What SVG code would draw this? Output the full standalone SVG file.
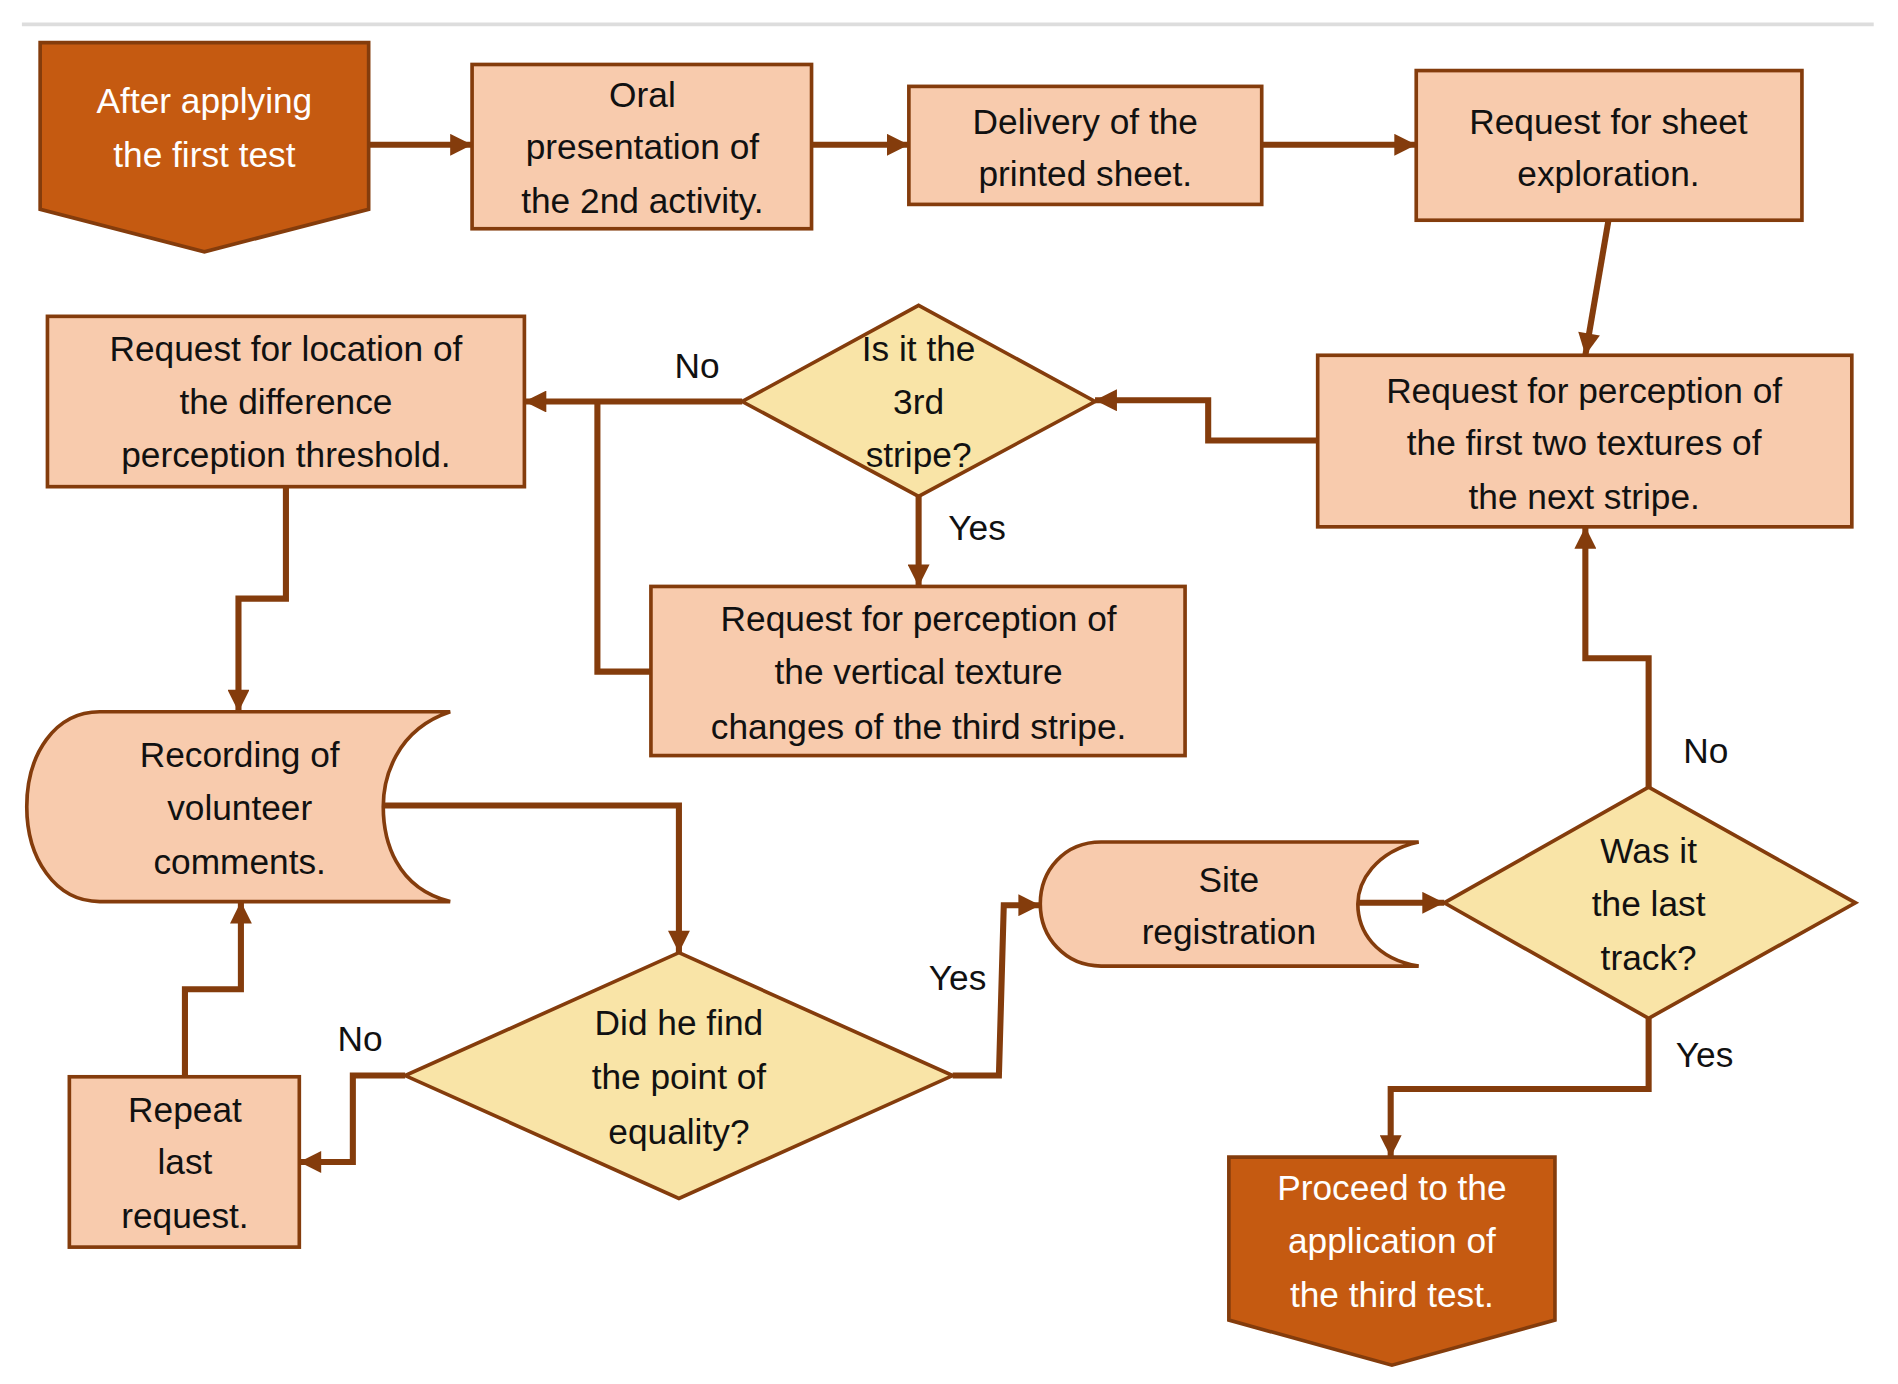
<svg xmlns="http://www.w3.org/2000/svg" width="1898" height="1384" viewBox="0 0 1898 1384">
<defs>
<marker id="ah" viewBox="0 0 10 10" refX="10" refY="5" markerWidth="22" markerHeight="18" markerUnits="userSpaceOnUse" orient="auto"><path d="M0,0 L10,5 L0,10 Z" fill="#843C0C"/></marker>
</defs>
<style>
.box{fill:#F8CBAD;stroke:#843C0C;stroke-width:3}
.dia{fill:#F9E4A7;stroke:#843C0C;stroke-width:3}
.term{fill:#C55A11;stroke:#843C0C;stroke-width:3}
text{font-family:"Liberation Sans","Open Sans",sans-serif;font-size:29px;fill:#111;text-anchor:middle}
.w{fill:#fff}
.c{fill:none;stroke:#843C0C;stroke-width:5;marker-end:url(#ah)}
</style>
<rect width="1898" height="1384" fill="#fff"/>
<g transform="scale(1.2167)">
<line x1="18" y1="20" x2="1540" y2="20" stroke="#ddd" stroke-width="3"/>
<g id="start"><path class="term" d="M33,35 H303 V172 L168,207 L33,172 Z"/><text class="w" x="168" y="93">After applying</text><text class="w" x="168" y="137">the first test</text></g>
<g id="oral"><rect class="box" x="388" y="53" width="279" height="135"/><text x="528" y="88">Oral</text><text x="528" y="131">presentation of</text><text x="528" y="175">the 2nd activity.</text></g>
<g id="delivery"><rect class="box" x="747" y="71" width="290" height="97"/><text x="892" y="110">Delivery of the</text><text x="892" y="153">printed sheet.</text></g>
<g id="explore"><rect class="box" x="1164" y="58" width="317" height="123"/><text x="1322" y="110">Request for sheet</text><text x="1322" y="153">exploration.</text></g>
<g id="perc2"><rect class="box" x="1083" y="292" width="439" height="141"/><text x="1302" y="331">Request for perception of</text><text x="1302" y="374">the first two textures of</text><text x="1302" y="418">the next stripe.</text></g>
<g id="third"><path class="dia" d="M755,251 L900,330 L755,408 L610,330 Z"/><text x="755" y="297">Is it the</text><text x="755" y="340">3rd</text><text x="755" y="384">stripe?</text></g>
<g id="location"><rect class="box" x="39" y="260" width="392" height="140"/><text x="235" y="297">Request for location of</text><text x="235" y="340">the difference</text><text x="235" y="384">perception threshold.</text></g>
<g id="vertical"><rect class="box" x="535" y="482" width="439" height="139"/><text x="755" y="519">Request for perception of</text><text x="755" y="562">the vertical texture</text><text x="755" y="607">changes of the third stripe.</text></g>
<g id="recording"><path class="box" d="M82,585 H370 C325,600 315,640 315,663 C315,690 325,730 370,741 H82 C45,741 22,705 22,663 C22,620 45,585 82,585 Z"/><text x="197" y="630">Recording of</text><text x="197" y="674">volunteer</text><text x="197" y="718">comments.</text></g>
<g id="found"><path class="dia" d="M558,783 L783,884 L558,985 L333,884 Z"/><text x="558" y="851">Did he find</text><text x="558" y="895">the point of</text><text x="558" y="940">equality?</text></g>
<g id="repeat"><rect class="box" x="57" y="885" width="189" height="140"/><text x="152" y="922">Repeat</text><text x="152" y="965">last</text><text x="152" y="1009">request.</text></g>
<g id="site"><path class="box" d="M905,692 H1166 C1130,700 1116,725 1116,743 C1116,765 1130,788 1166,794 H905 C875,794 855,770 855,743 C855,715 875,692 905,692 Z"/><text x="1010" y="733">Site</text><text x="1010" y="776">registration</text></g>
<g id="last"><path class="dia" d="M1355,647 L1525,742 L1355,837 L1187,742 Z"/><text x="1355" y="709">Was it</text><text x="1355" y="753">the last</text><text x="1355" y="797">track?</text></g>
<g id="end"><path class="term" d="M1010,951 H1278 V1085 L1144,1122 L1010,1085 Z"/><text class="w" x="1144" y="986">Proceed to the</text><text class="w" x="1144" y="1030">application of</text><text class="w" x="1144" y="1074">the third test.</text></g>
<g id="connectors">
<path class="c" d="M303,119 H388"/>
<path class="c" d="M667,119 H747"/>
<path class="c" d="M1037,119 H1164"/>
<path class="c" d="M1322,181 L1303,292"/>
<path class="c" d="M1083,362 H993 V329 H900"/>
<path class="c" d="M610,330 H431"/>
<path class="c" style="marker-end:none" d="M535,552 H491 V330"/>
<path class="c" d="M755,408 V482"/>
<path class="c" d="M235,400 V492 H196 V585"/>
<path class="c" d="M315,662 H558 V783"/>
<path class="c" d="M333,884 H290 V955 H246"/>
<path class="c" d="M152,885 V813 H198 V741"/>
<path class="c" d="M783,884 H821 L825,744 H855"/>
<path class="c" d="M1116,742 H1187"/>
<path class="c" d="M1355,647 V541 H1303 V433"/>
<path class="c" d="M1355,837 V895 H1143 V951"/>
<text x="573" y="311">No</text>
<text x="803" y="444">Yes</text>
<text x="296" y="864">No</text>
<text x="787" y="814">Yes</text>
<text x="1402" y="627">No</text>
<text x="1401" y="877">Yes</text>
</g>
</g>
</svg>
